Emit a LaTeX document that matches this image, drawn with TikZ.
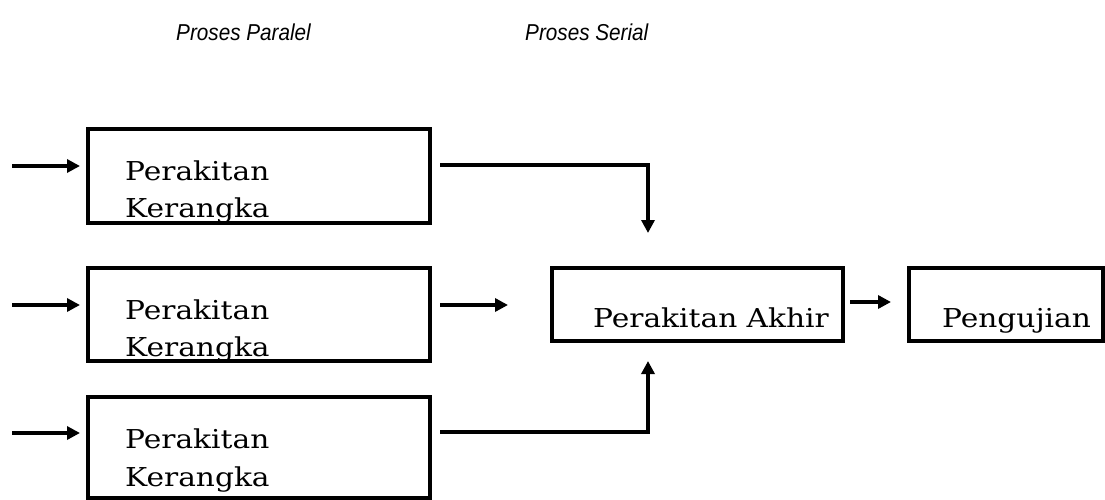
\documentclass[tikz,border=0pt]{standalone}
\usepackage{fontspec}
\setmainfont{DejaVu Serif}
\newfontfamily\boxfont[FakeStretch=1.14]{DejaVu Serif}
\newfontfamily\headfont[FakeStretch=0.9]{Liberation Sans}
\usetikzlibrary{arrows.meta}
\begin{document}
\begin{tikzpicture}[x=1pt,y=-1pt,
  box/.style={draw,line width=3.5pt,rectangle,inner sep=0pt},
  lbl/.style={anchor=base west,inner sep=0pt,font=\boxfont\fontsize{26}{26}\selectfont},
  head/.style={anchor=base west,inner sep=0pt,font=\headfont\itshape\fontsize{23}{23}\selectfont},
  conn/.style={line width=3.5pt,-{Triangle[length=13pt,width=13pt]}}]
\useasboundingbox (0,0) rectangle (1105,500);
% titles
\node[head] (t1) at (176,41) {Proses Paralel};
\node[head] (t2) at (525,41) {Proses Serial};
% boxes
\node[box,minimum width=342pt,minimum height=94pt] (b1) at (259,176) {};
\node[box,minimum width=342pt,minimum height=93pt] (b2) at (259,314.5) {};
\node[box,minimum width=342pt,minimum height=101pt] (b3) at (259,447.5) {};
\node[box,minimum width=291pt,minimum height=73pt] (ak) at (697.5,304.5) {};
\node[box,minimum width=194pt,minimum height=73pt] (pg) at (1006,304.5) {};
% texts
\node[lbl] (p1) at (125,180) {Perakitan};
\node[lbl] (k1) at (125,217) {Kerangka};
\node[lbl] (p2) at (125,319) {Perakitan};
\node[lbl] (k2) at (125,356) {Kerangka};
\node[lbl] (p3) at (125,448) {Perakitan};
\node[lbl] (k3) at (125,486) {Kerangka};
\node[lbl] (ta) at (593,327) {Perakitan Akhir};
\node[lbl] (tp) at (942,327) {Pengujian};
% input arrows
\coordinate (i1) at (12,166);
\coordinate (i2) at (12,305);
\coordinate (i3) at (12,433);
\coordinate (e1) at (80,166);
\coordinate (e2) at (80,305);
\coordinate (e3) at (80,433);
\draw[conn] (i1) -- (e1);
\draw[conn] (i2) -- (e2);
\draw[conn] (i3) -- (e3);
% outputs
\coordinate (o1) at (440,165);
\coordinate (c1) at (648,165);
\coordinate (d1) at (648,233);
\draw[conn] (o1) -- (c1) -- (d1);
\coordinate (o2) at (440,305);
\coordinate (d2) at (508,305);
\draw[conn] (o2) -- (d2);
\coordinate (o3) at (440,432);
\coordinate (c3) at (648,432);
\coordinate (d3) at (648,361);
\draw[conn] (o3) -- (c3) -- (d3);
\coordinate (a1) at (850,302);
\coordinate (a2) at (891,302);
\draw[conn] (a1) -- (a2);
\end{tikzpicture}
\end{document}
